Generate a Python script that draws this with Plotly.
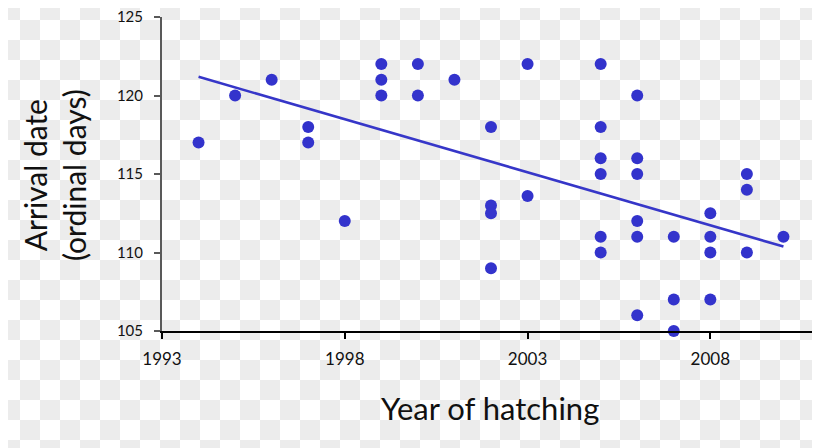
import numpy as np
import plotly.graph_objects as go

# ---- data ----
years = [1994, 1995, 1996, 1997, 1997, 1998, 1999, 1999, 1999, 2000, 2000, 2001,
         2002, 2002, 2002, 2002, 2003, 2003,
         2005, 2005, 2005, 2005, 2005, 2005,
         2006, 2006, 2006, 2006, 2006, 2006,
         2007, 2007, 2007, 2008, 2008, 2008, 2008, 2009, 2009, 2009, 2010]
arrival = [117, 120, 121, 118, 117, 112, 122, 121, 120, 122, 120, 121,
           118, 113, 112.5, 109, 122, 113.6,
           122, 118, 116, 115, 111, 110,
           120, 116, 115, 112, 111, 106,
           111, 107, 105, 112.5, 111, 110, 107, 115, 114, 110, 111]
x_ticks = [1993, 1998, 2003, 2008]
y_ticks = [105, 110, 115, 120, 125]

# linear trend
slope, intercept = np.polyfit(years, arrival, 1)
fit_x = np.array([min(years), max(years)])
fit_y = slope * fit_x + intercept

OFF = 8  # page body margin
W, H = 820 - OFF, 448 - OFF
ML, MR, MT, MB = 162 - OFF, 0, 17 - OFF, 117
PW, PH = W - ML - MR, H - MT - MB

def px_x(p):  # page pixel -> paper
    return (p - OFF - ML) / PW

def px_y(p):
    return (H - MB - (p - OFF)) / PH

fig = go.Figure()
fig.add_trace(go.Scatter(x=fit_x, y=fit_y, mode="lines",
                         line=dict(color="#3636c8", width=2.6),
                         hoverinfo="skip", cliponaxis=False))
fig.add_trace(go.Scatter(x=years, y=arrival, mode="markers",
                         marker=dict(color="#3333cc", size=12),
                         cliponaxis=False))

# transparent-background checkerboard seen in the reference
shapes = []
cell = 20
for i in range(820 // cell + 1):
    for j in range(448 // cell + 1):
        if (i + j) % 2 == 0:
            shapes.append(dict(type="rect", xref="paper", yref="paper",
                               x0=px_x(max(i * cell, OFF)), x1=px_x((i + 1) * cell),
                               y0=px_y((j + 1) * cell), y1=px_y(max(j * cell, OFF)),
                               fillcolor="#ececec", line=dict(width=0),
                               layer="below"))

fig.update_layout(
    width=W, height=H,
    margin=dict(l=ML, r=MR, t=MT, b=MB),
    paper_bgcolor="white", plot_bgcolor="rgba(0,0,0,0)",
    showlegend=False,
    font=dict(family="Lato, 'Open Sans', sans-serif", color="#111111"),
    shapes=shapes,
    xaxis=dict(range=[1993, 2011], tickvals=x_ticks, ticktext=[str(v) for v in x_ticks],
               showgrid=False, zeroline=False, showline=True, linecolor="#000000",
               linewidth=2, ticks="outside", ticklen=6, tickwidth=2, tickcolor="#000000",
               tickfont=dict(size=17, color="#111111"), ticklabelstandoff=6,
               ticklabeloverflow="allow"),
    yaxis=dict(range=[105, 125], tickvals=y_ticks,
               showgrid=False, zeroline=False, showline=True, linecolor="#595959",
               linewidth=2, ticks="outside", ticklen=6, tickwidth=2, tickcolor="#595959",
               tickfont=dict(size=15, color="#111111"), ticklabelstandoff=8,
               ticklabeloverflow="allow"),
    annotations=[
        dict(text="Year of hatching", xref="paper", yref="paper",
             x=px_x(490), y=px_y(408), xanchor="center", yanchor="middle",
             showarrow=False, font=dict(size=31, color="#111111")),
        dict(text="Arrival date<br>(ordinal days)", xref="paper", yref="paper",
             x=px_x(54), y=px_y(175), xanchor="center", yanchor="middle",
             textangle=-90, showarrow=False, font=dict(size=30, color="#111111")),
    ],
)

fig.write_html("out.html")
